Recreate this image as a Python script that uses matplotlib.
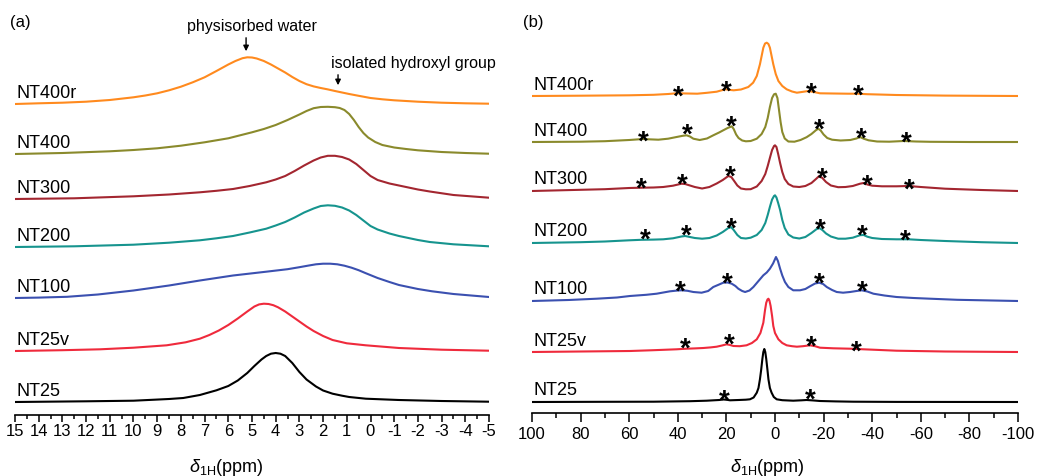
import matplotlib.pyplot as plt
from matplotlib.ticker import MultipleLocator

plt.rcParams['font.family'] = ['Liberation Sans', 'DejaVu Sans']
plt.rcParams['mathtext.fontset'] = 'custom'
plt.rcParams['mathtext.rm'] = 'Liberation Sans'
plt.rcParams['mathtext.it'] = 'Liberation Sans:italic'
plt.rcParams['axes.unicode_minus'] = False

names = ['NT400r', 'NT400', 'NT300', 'NT200', 'NT100', 'NT25v', 'NT25']
colors = ['#FF8A1E', '#8A8A2C', '#A32630', '#16948E', '#3B50B0', '#EF2A3C', '#000000']

# stack offsets (arbitrary units)
a_offsets = [311, 261, 216, 168, 117, 64, 13]
b_offsets = [317, 271, 222, 170, 112, 61, 11]

# ---- (a) 1H spectra, narrow window ----
a_x_nt400r = [15, 14, 13, 12, 11, 10, 9.5, 9, 8.5, 8, 7.5, 7, 6.5, 6, 5.7, 5.4, 5.2, 5.0, 4.8, 4.5, 4.2, 3.9, 3.6, 3.3,
              3.0, 2.7, 2.4, 2.1, 1.8, 1.5, 1.2, 0.9, 0.5, 0, -0.5, -1, -1.5, -2, -3, -4, -5]
a_y_nt400r = [0, 0.7, 1.3, 2.3, 4, 6.7, 8.5, 10.7, 13.7, 17.3, 21.7, 26.7, 33, 39.5, 43, 45.8, 46.7, 46.5, 45.5, 43, 39.5, 35.5, 31.5, 27,
              23, 19.8, 17.6, 16, 14.6, 13, 11.5, 10, 8.2, 6, 4.7, 3.7, 3, 2.3, 1.3, 0.7, 0.3]

a_x_nt400 = [15, 13, 11, 10, 9, 8, 7, 6, 5, 4.5, 4, 3.5, 3, 2.7, 2.4, 2.1, 1.8, 1.5, 1.3, 1.1, 0.9, 0.7, 0.5, 0.3, 0.1,
             -0.2, -0.5, -1, -1.5, -2, -3, -4, -5]
a_y_nt400 = [0, 1, 2.7, 4, 5.7, 8.3, 11.7, 15.7, 21.7, 25, 29, 34, 39.5, 43, 45.8, 47, 47.2, 46.8, 46, 44, 40, 34, 27, 21, 16.5,
             12, 9, 6.5, 5, 3.7, 2, 1, 0.3]

a_x_nt300 = [15, 12.5, 10, 8.5, 7.2, 6.5, 5.8, 5.1, 4.4, 4, 3.6, 3.2, 2.8, 2.4, 2.1, 1.8, 1.5, 1.2, 0.9, 0.6, 0.3, 0,
             -0.3, -0.8, -1.2, -2, -2.5, -3.5, -5]
a_y_nt300 = [0, 0.7, 2.7, 4.5, 6.7, 8.2, 10, 13, 16.7, 19.5, 23, 28, 33.5, 38.5, 41.5, 43.2, 43.2, 42, 39.5, 35, 29, 23,
             19, 15.5, 13.5, 9.5, 7.5, 4, 1.3]

a_x_nt200 = [15, 12.5, 10, 8.5, 7.2, 6.5, 5.8, 5.1, 4.4, 4, 3.6, 3.2, 2.8, 2.4, 2.1, 1.8, 1.5, 1.2, 0.9, 0.6, 0.3, 0,
             -0.3, -0.8, -1.2, -2, -2.5, -3.5, -5]
a_y_nt200 = [0, 0.7, 2.3, 4.3, 6.7, 8.7, 11, 14.5, 18.3, 21.5, 25, 29.5, 34.5, 38.5, 41, 41.7, 41.2, 39.5, 36.5, 32, 26.5, 21,
             17.5, 13.5, 11, 7, 5, 2.7, 0.7]

a_x_nt100 = [15, 14, 12.8, 11.5, 10, 8.5, 7.2, 5.8, 4.4, 3.5, 3, 2.6, 2.3, 2.0, 1.7, 1.4, 1.1, 0.8, 0.5, 0.2,
             -0.3, -0.8, -1.2, -2, -2.6, -3.5, -5]
a_y_nt100 = [0, 0.4, 1.2, 3.5, 7.5, 12.5, 17.5, 22.5, 26.3, 28.8, 30.8, 32.5, 33.7, 34.3, 34.3, 33.7, 32.3, 30.3, 27.8, 24.8,
             20, 16, 13, 9, 6.7, 4, 1]

a_x_nt25v = [15, 13, 11.4, 10, 8.6, 7.8, 7.2, 6.8, 6.4, 6.0, 5.6, 5.2, 4.9, 4.7, 4.5, 4.3, 4.1, 3.9, 3.6, 3.3, 3.0, 2.7,
             2.4, 2.0, 1.6, 1.0, 0.2, -1.2, -3, -5]
a_y_nt25v = [0, 0.8, 1.7, 3.3, 5.7, 8.7, 12.3, 16, 20.5, 26, 32.5, 39.5, 44.5, 46.6, 47.3, 47, 45.8, 43.7, 39.5, 34.5, 29.5, 24.5,
             20, 15, 11, 7.7, 5.7, 3, 1.3, 0.3]

a_x_nt25 = [15, 12, 10, 8.5, 7.9, 7.2, 6.5, 6.0, 5.6, 5.2, 4.9, 4.6, 4.4, 4.2, 4.0, 3.8, 3.6, 3.3, 3.0, 2.7, 2.3, 2.0,
            1.6, 1.2, 0.9, 0.2, -1.2, -3, -5]
a_y_nt25 = [0, 0.7, 1.3, 3, 4, 7, 11.7, 16, 21.5, 29, 36, 42.5, 46, 48.3, 49, 48.3, 46, 39, 30, 22.5, 15.5, 11.5,
            8.3, 6.3, 5, 3.3, 2, 1, 0.3]

# ---- (b) 1H spectra, wide window with spinning sidebands ----
b_x_nt400r = [100, 80, 60, 50, 44, 40.5, 36, 32, 28, 24, 21.5, 20.3, 19, 17, 14, 11, 9, 7.5, 6.2, 5.5,
              4.8, 4.1, 3.4, 2.7, 2.1, 1.4, 0.7, -0.3, -1.4, -3, -4.8, -7, -9, -11, -13.7, -16, -18.5, -24, -30, -34,
              -38, -50, -70, -100]
b_y_nt400r = [0, 0.3, 0.7, 1.2, 2, 2.7, 2.5, 2.3, 3.2, 4.3, 6, 6.7, 6.2, 5.7, 6.5, 9, 13.3, 20, 31.7, 40,
              48.3, 52.5, 53.3, 52, 48.3, 40, 31.7, 22, 15, 10, 6.7, 4.5, 3.3, 4, 5, 4, 2.7, 2.5, 2.3, 2.3,
              1.8, 1, 0.4, 0]

b_x_nt400 = [100, 80, 70, 60, 56, 54.2, 52, 48, 44, 40.5, 38, 36.4, 35, 33.6, 31, 28, 25.4, 23, 21.3, 19.5,
             17.8, 17, 16, 15, 13.5, 12, 10, 7.5, 5.5, 4, 3, 2.1, 1.2, 0.4, -0.3, -1, -1.6, -2.3, -3, -4,
             -5.5, -8, -10.5, -13, -15, -16.8, -17.8, -18.8, -20, -21.5, -23.5, -27, -31, -33.5, -35, -36.5, -38.5, -42, -47, -53,
             -58, -64, -80, -100]
b_y_nt400 = [0, 0.3, 0.8, 2, 2.7, 3, 2.7, 2.3, 3.3, 5, 6.2, 6.7, 5.5, 3.3, 2, 3.5, 6.7, 9.5, 11.7, 14,
             15.7, 13, 7.5, 4, 1.5, 0.7, 1, 3.3, 8, 15, 24, 35, 44, 47.7, 48.3, 44, 33, 20, 10, 3.5,
             0.5, 0.3, 2, 4.8, 8, 11.7, 13.3, 11.5, 7.5, 4, 2.3, 1.5, 2, 3.5, 5, 3.3, 1.7, 0.5, 0.3, 1,
             0.5, 0.2, 0, 0]

b_x_nt300 = [100, 80, 70, 60, 55, 50, 46, 42, 38.5, 37, 35, 33, 30, 27, 24, 21.5, 19.2, 18, 17, 15.5,
             14, 12, 10, 7.5, 5.5, 4, 3, 2, 1.2, 0.4, 0, -0.6, -1.3, -2.1, -3, -4, -5.5, -7.5, -10, -12.5,
             -15, -17, -18.2, -19.5, -21, -23, -26, -29, -32, -35, -36.5, -38, -40, -44, -50, -55, -60, -70, -85, -100]
b_y_nt300 = [0, 1.2, 1.8, 3, 3.3, 3.5, 4, 5.3, 7.3, 7, 5.5, 4, 2.5, 4, 7.5, 11, 15, 14, 10.7, 5.5,
             2.5, 1.7, 1.8, 4.5, 10, 17, 25, 34, 41, 45, 45.7, 44, 37, 28, 19, 12, 7, 4.5, 4, 5,
             8, 12.3, 15, 13, 9, 5.5, 3.8, 4, 5, 7.3, 8, 6.5, 5.3, 4.7, 4.7, 5, 4, 2.3, 1, 0]

b_x_nt200 = [100, 80, 70, 60, 55, 50, 46, 42, 38.5, 37, 35, 33, 30, 27, 24, 21.5, 19.2, 18, 17, 15.5,
             14, 12, 10, 7.5, 5.5, 4, 3, 2, 1.2, 0.4, 0, -0.6, -1.3, -2.1, -3, -4, -5.5, -7.5, -10, -12.5,
             -15, -17, -18.2, -19.5, -21, -23, -26, -29, -32, -35, -36.5, -38, -40, -44, -50, -55, -60, -70, -85, -100]
b_y_nt200 = [0, 0.8, 1.5, 2.7, 3.2, 3.4, 3.7, 4.7, 6.5, 7, 6, 5, 4.3, 5, 7.5, 11, 15, 15.8, 13, 8,
             5, 4.5, 5.3, 8, 13, 20, 28, 37, 43.5, 47, 47.7, 45.5, 40, 33, 23, 15, 8.5, 5.5, 4.5, 6,
             10, 13.7, 15, 13, 9.5, 6.5, 4.3, 4.3, 5.3, 7.8, 8, 6.3, 5, 4, 3.7, 3.7, 3, 2, 0.8, 0]

b_x_nt100 = [100, 85, 73.4, 65, 59.7, 53, 48.7, 43.2, 40, 38.4, 36, 33.6, 30.2, 27.5, 25.4, 23, 21.3, 19.5, 17.8, 16.3,
             15.1, 13.5, 12.3, 10.5, 8.9, 6.8, 4.8, 3.4, 2.1, 0.8, -0.4, -1.2, -2.1, -3, -4.1, -5.5, -7.5, -10.3, -12.5, -14.4,
             -16.5, -18.2, -19.8, -21.3, -23.5, -25.4, -28, -30.9, -33.5, -35.7, -38, -40.5, -45, -50, -57, -63.8, -75, -100]
b_y_nt100 = [0, 1, 2.3, 3.5, 5, 6.2, 7.3, 9.7, 10.5, 10.7, 10.2, 9, 8.3, 10, 14, 16.5, 18.3, 18.5, 17.3, 15,
             12.3, 10, 9, 10.5, 14, 20, 25.7, 28.5, 32.3, 37.5, 44, 40, 32.3, 25.5, 19, 14, 10.7, 10.7, 12, 14.7,
             17.5, 18.3, 17, 14, 11, 9, 8.3, 9, 10, 10.7, 9.5, 7.3, 5.5, 4, 3, 2.3, 1.2, 0]

b_x_nt25v = [100, 80, 59.7, 50, 40.5, 36.4, 33, 29.5, 26.5, 24, 21.8, 19.9, 18.5, 17.1, 14.5, 11.7, 9.5, 7.5, 6, 4.8,
             4.1, 3.6, 3.1, 2.7, 2.3, 1.8, 1.2, 0.7, 0, -1.4, -3, -4.8, -7, -9, -11.5, -14.4, -16.5, -18.5, -24, -30.9,
             -36.4, -50, -70, -100]
b_y_nt25v = [0, 0.5, 1, 1.8, 2.7, 3.3, 3.6, 4, 4.6, 5.3, 6.5, 7.7, 7, 6, 5.8, 6.7, 9, 12.7, 19, 29.3,
             42, 49.3, 52.5, 53.3, 51.5, 46, 36, 26, 19, 12.7, 9, 6.7, 5.8, 5.3, 5.8, 6.7, 5.8, 4.3, 3.7, 3.3,
             2.7, 1.3, 0.5, 0]

b_x_nt25 = [100, 70, 50, 35, 28.1, 23, 21.2, 19.8, 18.5, 15, 12, 10.3, 8.8, 7.5, 6.8, 6.2, 5.7, 5.2, 4.8, 4.4,
            4.0, 3.6, 3.1, 2.7, 2.1, 1.4, 0.5, -0.7, -3, -7.5, -11, -13, -15.5, -18.5, -25, -32.2, -50, -100]
b_y_nt25 = [0, 0.2, 0.3, 0.8, 1.3, 2, 2.5, 2.2, 1.7, 2, 2.3, 2.7, 4.5, 9.3, 14, 22.7, 32, 43, 50, 53,
            50, 43, 32, 22.7, 14, 9.3, 5, 2.7, 1.8, 1.3, 1.7, 2, 1.6, 1, 0.6, 0.3, 0.1, 0]

# spinning sideband markers (position, height above baseline)
s_x_nt400r = [39.8, 19.9, -15.1, -34.3]
s_y_nt400r = [8.3, 13.3, 11.7, 9]
s_x_nt400 = [54.2, 36.1, 18.1, -18.2, -35.7, -54.2]
s_y_nt400 = [9.3, 16, 24, 21.7, 12.3, 8.3]
s_x_nt300 = [55.1, 38, 18.5, -19.5, -38, -55.3]
s_y_nt300 = [11.3, 15.7, 23, 21.7, 14.7, 10.7]
s_x_nt200 = [53.2, 36.6, 18, -18.7, -35.9, -53.8]
s_y_nt200 = [12.3, 16, 23.3, 22.7, 16.7, 11.7]
s_x_nt100 = [38.8, 19.5, -18.4, -36.1]
s_y_nt100 = [18, 26.7, 26.7, 18]
s_x_nt25v = [36.8, 18.9, -15.1, -33.3]
s_y_nt25v = [12, 16, 14.3, 9.3]
s_x_nt25 = [21, -14.4]
s_y_nt25 = [10.3, 11]

a_series = [(a_x_nt400r, a_y_nt400r), (a_x_nt400, a_y_nt400), (a_x_nt300, a_y_nt300), (a_x_nt200, a_y_nt200),
            (a_x_nt100, a_y_nt100), (a_x_nt25v, a_y_nt25v), (a_x_nt25, a_y_nt25)]
b_series = [(b_x_nt400r, b_y_nt400r), (b_x_nt400, b_y_nt400), (b_x_nt300, b_y_nt300), (b_x_nt200, b_y_nt200),
            (b_x_nt100, b_y_nt100), (b_x_nt25v, b_y_nt25v), (b_x_nt25, b_y_nt25)]
stars = [(s_x_nt400r, s_y_nt400r), (s_x_nt400, s_y_nt400), (s_x_nt300, s_y_nt300), (s_x_nt200, s_y_nt200),
         (s_x_nt100, s_y_nt100), (s_x_nt25v, s_y_nt25v), (s_x_nt25, s_y_nt25)]

W, H = 1054, 477
fig = plt.figure(figsize=(W / 100, H / 100), dpi=100)
ax1 = fig.add_axes([15 / W, (H - 416) / H, 474 / W, 416 / H])
ax2 = fig.add_axes([532 / W, (H - 414) / H, 486 / W, 414 / H])


def style_axis(ax, major, minor, lmaj, lmin, pad):
    for s in ['left', 'right', 'top']:
        ax.spines[s].set_visible(False)
    ax.spines['bottom'].set_linewidth(1.2)
    ax.set_yticks([])
    ax.xaxis.set_major_locator(MultipleLocator(major))
    ax.xaxis.set_minor_locator(MultipleLocator(minor))
    ax.tick_params(axis='x', which='major', direction='out', length=lmaj, width=1.1, labelsize=12, pad=pad)
    ax.tick_params(axis='x', which='minor', direction='out', length=lmin, width=1.1)
    ax.patch.set_alpha(0)


# (a)
for name, col, off, (xs, ys) in zip(names, colors, a_offsets, a_series):
    ax1.plot(xs, [v + off for v in ys], color=col, lw=1.5, solid_joinstyle='round')
    ax1.text(14.95, off + 7, name, fontsize=13, ha='left', va='baseline')
ax1.set_xlim(15, -5)
ax1.set_ylim(0, 416)
style_axis(ax1, 1, 0.5, 5, 3, 1)
ax1.set_xticks(range(15, -6, -1))
ax1.set_xticklabels([str(v) for v in range(15, -6, -1)])

ax1.text(5.0, 385, 'physisorbed water', fontsize=11.5, ha='center', va='baseline')
ax1.annotate('', xy=(5.25, 361), xytext=(5.25, 380),
             arrowprops=dict(arrowstyle='-|>', color='black', lw=1, mutation_scale=8))
ax1.text(-1.8, 348, 'isolated hydroxyl group', fontsize=11.5, ha='center', va='baseline')
ax1.annotate('', xy=(1.37, 327), xytext=(1.37, 343),
             arrowprops=dict(arrowstyle='-|>', color='black', lw=1, mutation_scale=8))

# (b)
for name, col, off, (xs, ys), (sx, sy) in zip(names, colors, b_offsets, b_series, stars):
    ax2.plot(xs, [v + off for v in ys], color=col, lw=1.5, solid_joinstyle='round')
    ax2.text(99.5, off + 7.5, name, fontsize=13, ha='left', va='baseline')
    for x, y in zip(sx, sy):
        ax2.text(x, off + y - 16, '*', fontsize=20, fontweight='bold', ha='center', va='baseline')
ax2.set_xlim(100, -100)
ax2.set_ylim(0, 414)
style_axis(ax2, 20, 10, 6.5, 3.5, 3)

fig.text(10 / W, (H - 27) / H, '(a)', fontsize=12)
fig.text(523 / W, (H - 27) / H, '(b)', fontsize=12)
fig.text(226 / W, (H - 472) / H, r'$\delta_{\rm 1H}$(ppm)', fontsize=13, ha='center', va='baseline')
fig.text(767 / W, (H - 472) / H, r'$\delta_{\rm 1H}$(ppm)', fontsize=13, ha='center', va='baseline')

fig.savefig('out.png', dpi=100)
